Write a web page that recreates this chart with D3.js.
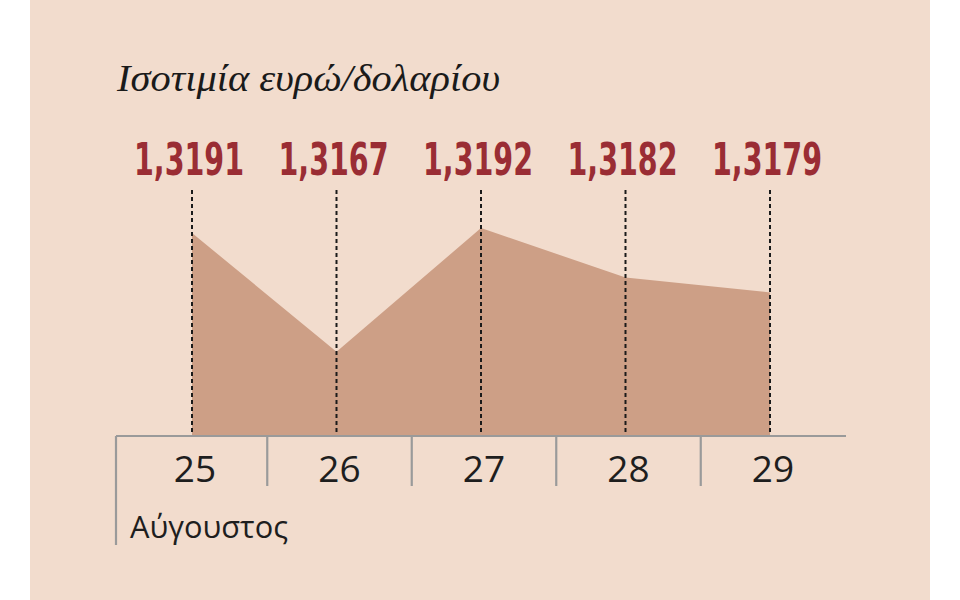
<!DOCTYPE html>
<html><head><meta charset="utf-8">
<script src="https://cdn.jsdelivr.net/npm/d3@7/dist/d3.min.js"></script>
<style>html,body{margin:0;padding:0;background:#fff;}svg{display:block;}</style>
</head><body>
<svg id="c" width="960" height="600"></svg>
<script>
const title = "Ισοτιμία ευρώ/δολαρίου";
const days = ["25", "26", "27", "28", "29"];
const values = [1.3191, 1.3167, 1.3192, 1.3182, 1.3179];
const valueLabels = ["1,3191", "1,3167", "1,3192", "1,3182", "1,3179"];
const monthLabel = "Αύγουστος";

const svg = d3.select("#c");
svg.append("rect").attr("x", 30).attr("y", 0).attr("width", 900).attr("height", 600).attr("fill", "#f2dccd");

const x = d3.scalePoint().domain(days).range([192, 770]);
const y = d3.scaleLinear().domain([1.3150, 1.3192]).range([436, 228]);
const axisLeft = 116, axisRight = 846, baseY = 436;

// area
const area = d3.area().x((d, i) => x(days[i])).y0(y(1.3150)).y1(d => y(d)).curve(d3.curveLinear);
svg.append("path").datum(values).attr("d", area).attr("fill", "#cd9f86");

// dashed guides
svg.selectAll("line.guide").data(days).join("line")
  .attr("class", "guide")
  .attr("x1", d => x(d)).attr("x2", d => x(d))
  .attr("y1", 190).attr("y2", baseY)
  .attr("stroke", "#1a1a1a").attr("stroke-width", 2)
  .attr("stroke-dasharray", "4,3");

// value labels
svg.selectAll("text.val").data(valueLabels).join("text")
  .attr("class", "val")
  .attr("x", (d, i) => x(days[i]) - 3)
  .attr("y", 175)
  .attr("text-anchor", "middle")
  .attr("font-family", "'Liberation Sans Narrow','DejaVu Sans Condensed','Roboto Condensed',sans-serif")
  .attr("font-weight", "bold")
  .attr("font-size", 45)
  .attr("fill", "#9a2d34")
  .attr("textLength", 110)
  .attr("lengthAdjust", "spacingAndGlyphs")
  .text(d => d);

// axis
const axisG = svg.append("g");
axisG.append("line").attr("x1", axisLeft).attr("x2", axisRight).attr("y1", baseY).attr("y2", baseY)
  .attr("stroke", "#9a9a9a").attr("stroke-width", 2.2);
axisG.append("line").attr("x1", axisLeft).attr("x2", axisLeft).attr("y1", baseY).attr("y2", 545)
  .attr("stroke", "#9a9a9a").attr("stroke-width", 2.2);
const seps = days.slice(1).map((d, i) => (x(days[i]) + x(d)) / 2 + 3);
axisG.selectAll("line.sep").data(seps).join("line")
  .attr("class", "sep")
  .attr("x1", d => d).attr("x2", d => d).attr("y1", baseY).attr("y2", 486)
  .attr("stroke", "#9a9a9a").attr("stroke-width", 2.2);

svg.selectAll("text.day").data(days).join("text")
  .attr("class", "day")
  .attr("x", d => x(d) + 3)
  .attr("y", 482)
  .attr("text-anchor", "middle")
  .attr("font-family", "'Open Sans',sans-serif")
  .attr("font-weight", 400)
  .attr("font-size", 37)
  .attr("fill", "#1e1e1e")
  .text(d => d);

svg.append("text")
  .attr("x", 130).attr("y", 538)
  .attr("font-family", "'Open Sans',sans-serif")
  .attr("font-weight", 400)
  .attr("font-size", 31)
  .attr("fill", "#1e1e1e")
  .attr("textLength", 158)
  .attr("lengthAdjust", "spacingAndGlyphs")
  .text(monthLabel);

svg.append("text")
  .attr("x", 117).attr("y", 91)
  .attr("font-family", "'Liberation Serif','DejaVu Serif',serif")
  .attr("font-style", "italic")
  .attr("font-size", 38)
  .attr("fill", "#1a1a1a")
  .attr("textLength", 383)
  .attr("lengthAdjust", "spacingAndGlyphs")
  .text(title);
</script>
</body></html>
